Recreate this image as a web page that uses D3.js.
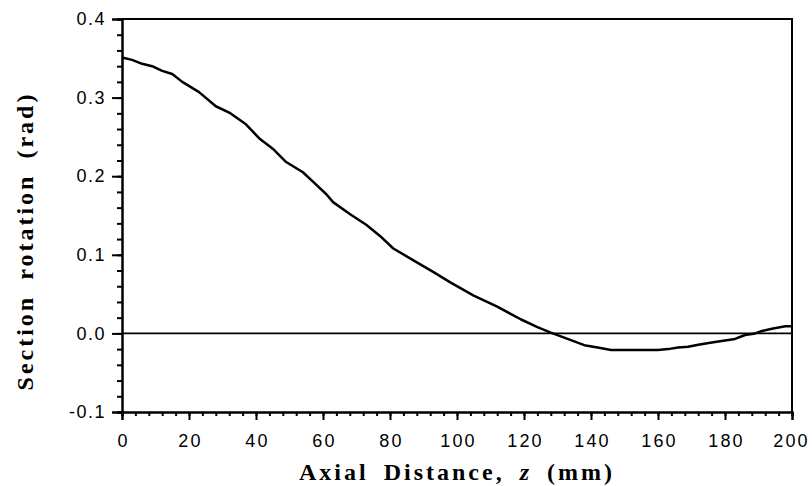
<!DOCTYPE html>
<html>
<head>
<meta charset="utf-8">
<script src="https://cdn.jsdelivr.net/npm/d3@7"></script>
<style>
  body { margin: 0; background: #fff; }
  svg { display: block; }
</style>
</head>
<body>
<script>
// data
const zValues   = [0, 3, 6, 9, 12, 15, 18, 23, 28, 32, 37, 41, 45, 49, 54, 57, 61, 63, 68, 73,
                   77, 81, 87, 93, 98, 105, 112, 119, 124, 128, 133, 138, 142, 146, 150, 155,
                   160, 163, 166, 169, 172, 177, 183, 186, 189, 191, 194, 198, 200];
const rotValues = [0.351, 0.348, 0.343, 0.340, 0.334, 0.330, 0.320, 0.307, 0.289, 0.281, 0.266,
                   0.248, 0.235, 0.218, 0.205, 0.193, 0.177, 0.167, 0.152, 0.138, 0.124, 0.108,
                   0.093, 0.078, 0.065, 0.048, 0.034, 0.018, 0.008, 0.001, -0.007, -0.015, -0.018,
                   -0.021, -0.021, -0.021, -0.021, -0.020, -0.018, -0.017, -0.0145, -0.011, -0.007,
                   -0.002, 0.000, 0.003, 0.006, 0.009, 0.009];
const xTicks = [0, 20, 40, 60, 80, 100, 120, 140, 160, 180, 200];
const yTicks = [-0.1, 0.0, 0.1, 0.2, 0.3, 0.4];
const xMinor = d3.range(0, 201, 4);
const yMinor = d3.range(-0.1, 0.4001, 0.02);

//Setting the dimensions
const width = 812, height = 486;
const margin = {top: 19, right: 20, bottom: 74, left: 122};
const svg = d3.select('body').append('svg').attr('width', width).attr('height', height);

const x = d3.scaleLinear().domain([0, 200]).range([margin.left, width - margin.right]);
const y = d3.scaleLinear().domain([-0.1, 0.4]).range([height - margin.bottom, margin.top]);

// frame: top and right lines
svg.append('path')
   .attr('d', `M${x(0)},${y(0.4)}H${x(200)}V${y(-0.1)}`)
   .attr('fill', 'none').attr('stroke', '#000').attr('stroke-width', 2);

//X axis with minor ticks
const xAxisMinor = d3.axisBottom(x).tickValues(xMinor).tickSize(4).tickFormat('');
const xAxis = d3.axisBottom(x).tickValues(xTicks).tickSize(8).tickFormat(d3.format('d'));
const gxm = svg.append('g').attr('transform', `translate(0,${y(-0.1)})`).call(xAxisMinor);
const gx = svg.append('g').attr('transform', `translate(0,${y(-0.1)})`).call(xAxis);
gx.selectAll('text')
  .attr('y', 22)
  .attr('dx', '1px')
  .style('font-family', 'Liberation Sans, Arial, sans-serif')
  .style('font-size', '18px')
  .style('letter-spacing', '2.2px')
  .attr('fill', '#000');
// keep the last label inside the page
gx.selectAll('.tick text').filter(d => d === 200).attr('dx', '-1px');

//Y axis with minor ticks
const fmtY = d => d3.format('.1f')(d).replace('\u2212', '-');
const yAxisMinor = d3.axisLeft(y).tickValues(yMinor).tickSize(5).tickFormat('');
const yAxis = d3.axisLeft(y).tickValues(yTicks).tickSize(10).tickFormat(fmtY);
const gym = svg.append('g').attr('transform', `translate(${x(0)},0)`).call(yAxisMinor);
const gy = svg.append('g').attr('transform', `translate(${x(0)},0)`).call(yAxis);
gy.selectAll('text')
  .attr('x', -16)
  .style('font-family', 'Liberation Sans, Arial, sans-serif')
  .style('font-size', '18px')
  .style('letter-spacing', '1.5px')
  .attr('fill', '#000');

[gxm, gx, gym, gy].forEach(g => {
  g.select('.domain').attr('stroke-width', 2);
  g.selectAll('.tick line').attr('stroke-width', 2);
});

// zero line
svg.append('line')
   .attr('x1', x(0)).attr('x2', x(200))
   .attr('y1', y(0)).attr('y2', y(0))
   .attr('stroke', '#000').attr('stroke-width', 1.8);

// the curve
const pts = zValues.map((z, i) => [z, rotValues[i]]);
svg.append('path')
   .datum(pts)
   .attr('fill', 'none')
   .attr('stroke', '#000')
   .attr('stroke-width', 2.5)
   .attr('stroke-linejoin', 'round')
   .attr('d', d3.line().x(d => x(d[0])).y(d => y(d[1])));

// axis titles
const xTitle = svg.append('text')
   .attr('x', 457).attr('y', 480)
   .attr('text-anchor', 'middle')
   .style('font-family', 'Liberation Serif, Times New Roman, serif')
   .style('font-weight', 'bold')
   .style('font-size', '24px')
   .style('letter-spacing', '3px')
   .style('word-spacing', '6px');
xTitle.append('tspan').text('Axial Distance, ');
xTitle.append('tspan').style('font-style', 'italic').text('z');
xTitle.append('tspan').text(' (mm)');

svg.append('text')
   .attr('transform', 'translate(33,241) rotate(-90)')
   .attr('text-anchor', 'middle')
   .style('font-family', 'Liberation Serif, Times New Roman, serif')
   .style('font-weight', 'bold')
   .style('font-size', '24px')
   .style('letter-spacing', '3px')
   .style('word-spacing', '6px')
   .text('Section rotation (rad)');
</script>
</body>
</html>
